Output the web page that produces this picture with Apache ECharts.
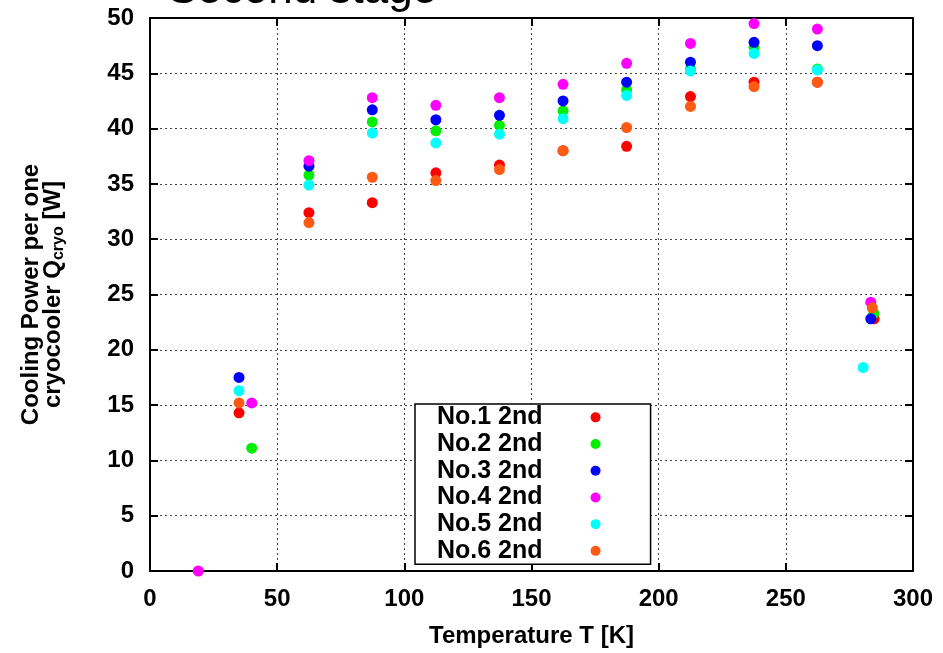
<!DOCTYPE html>
<html>
<head>
<meta charset="utf-8">
<script src="https://cdn.jsdelivr.net/npm/echarts@6/dist/echarts.min.js"></script>
<style>
  html, body { margin: 0; padding: 0; background: #fff; }
  #chart { width: 943px; height: 653px; }
</style>
</head>
<body>
<div id="chart"></div>
<script>
// temperatures [K] and cooling power [W] for each cryocooler (2nd stage)
const tempNo1 = [35.0, 62.5, 87.4, 112.4, 137.4, 162.4, 187.4, 212.5, 237.5, 262.4, 284.7];
const powNo1  = [14.3, 32.4, 33.3, 36.0, 36.7, 38.0, 38.4, 42.9, 44.2, 44.2, 22.8];

const tempNo2 = [40.0, 62.5, 87.4, 112.4, 137.4, 162.4, 187.4, 212.5, 237.5, 262.4, 284.6];
const powNo2  = [11.1, 35.8, 40.6, 39.8, 40.3, 41.6, 43.5, 45.4, 47.4, 45.4, 23.3];

const tempNo3 = [35.0, 62.5, 87.4, 112.4, 137.4, 162.4, 187.4, 212.5, 237.5, 262.4, 283.4];
const powNo3  = [17.5, 36.6, 41.7, 40.8, 41.2, 42.5, 44.2, 46.0, 47.8, 47.5, 22.8];

const tempNo4 = [19.0, 40.0, 62.5, 87.4, 112.4, 137.4, 162.4, 187.4, 212.5, 237.5, 262.4, 283.4];
const powNo4  = [0.0, 15.2, 37.1, 42.8, 42.1, 42.8, 44.0, 45.9, 47.7, 49.5, 49.0, 24.3];

const tempNo5 = [35.0, 62.5, 87.4, 112.4, 137.4, 162.4, 187.4, 212.5, 237.5, 262.4, 280.4];
const powNo5  = [16.3, 34.9, 39.6, 38.7, 39.5, 40.9, 43.0, 45.2, 46.8, 45.3, 18.4];

const tempNo6 = [35.0, 62.5, 87.4, 112.4, 137.4, 162.4, 187.4, 212.5, 237.5, 262.4, 284.0];
const powNo6  = [15.2, 31.5, 35.6, 35.3, 36.3, 38.0, 40.1, 42.0, 43.8, 44.2, 23.8];

const seriesNames = ['No.1 2nd', 'No.2 2nd', 'No.3 2nd', 'No.4 2nd', 'No.5 2nd', 'No.6 2nd'];
const seriesColors = ['#ff0000', '#00ee00', '#0000ff', '#ff00ff', '#00ffff', '#ff5a14'];
const temps = [tempNo1, tempNo2, tempNo3, tempNo4, tempNo5, tempNo6];
const pows = [powNo1, powNo2, powNo3, powNo4, powNo5, powNo6];

const FONT = 'Liberation Sans, Arial, sans-serif';

function pairs(xs, ys) {
  let out = [];
  for (let i = 0; i < xs.length; i++) {
    out.push([xs[i], ys[i]]);
  }
  return out;
}

const gridLine = {
  show: true,
  lineStyle: { color: '#444', width: 1, type: [2, 3] }
};
const frameLine = { show: true, onZero: false, lineStyle: { color: '#000', width: 2 } };
const tickIn = { show: true, inside: true, length: 8, lineStyle: { color: '#000', width: 2 } };

const chart = echarts.init(document.getElementById('chart'), null, { renderer: 'canvas' });

chart.setOption({
  animation: false,
  backgroundColor: '#fff',
  graphic: [{
    // title is cut off by the top edge in the original figure
    type: 'text',
    x: 168,
    y: -9,
    style: {
      text: 'Second stage',
      font: 'normal 44px ' + FONT,
      fill: '#000',
      verticalAlign: 'middle'
    }
  }],
  grid: { left: 150, right: 30, top: 18, bottom: 80, containLabel: false },
  legend: {
    orient: 'vertical',
    left: 415,
    top: 404,
    align: 'right',
    icon: 'circle',
    itemWidth: 96,
    itemHeight: 10,
    itemGap: 0,
    padding: [0, 50, 0, 22],
    borderColor: '#000',
    borderWidth: 1.5,
    backgroundColor: '#fff',
    data: seriesNames,
    textStyle: { fontFamily: FONT, fontWeight: 'bold', fontSize: 25, color: '#000', lineHeight: 26.7 }
  },
  xAxis: [{
    type: 'value',
    min: 0, max: 300, interval: 50,
    name: 'Temperature T [K]',
    nameLocation: 'middle',
    nameGap: 53,
    nameTextStyle: { fontFamily: FONT, fontWeight: 'bold', fontSize: 24, color: '#000' },
    axisLine: frameLine,
    axisTick: tickIn,
    splitLine: gridLine,
    axisLabel: { margin: 16, fontFamily: FONT, fontWeight: 'bold', fontSize: 24, color: '#000' }
  }, {
    type: 'value',
    position: 'top',
    min: 0, max: 300, interval: 50,
    axisLine: frameLine,
    axisTick: tickIn,
    splitLine: { show: false },
    axisLabel: { show: false }
  }],
  yAxis: [{
    type: 'value',
    min: 0, max: 50, interval: 5,
    name: 'Cooling Power per one\ncryocooler Q{sub|cryo} [W]',
    nameLocation: 'middle',
    nameGap: 86,
    nameTextStyle: {
      fontFamily: FONT, fontWeight: 'bold', fontSize: 24, color: '#000', lineHeight: 22,
      rich: {
        sub: { fontFamily: FONT, fontWeight: 'bold', fontSize: 16, color: '#000', padding: [12, 0, 0, 0] }
      }
    },
    axisLine: frameLine,
    axisTick: tickIn,
    splitLine: gridLine,
    axisLabel: { margin: 16, fontFamily: FONT, fontWeight: 'bold', fontSize: 24, color: '#000' }
  }, {
    type: 'value',
    position: 'right',
    min: 0, max: 50, interval: 5,
    axisLine: frameLine,
    axisTick: tickIn,
    splitLine: { show: false },
    axisLabel: { show: false }
  }],
  series: seriesNames.map(function (name, k) {
    return {
      name: name,
      type: 'scatter',
      xAxisIndex: 0,
      yAxisIndex: 0,
      symbol: 'circle',
      symbolSize: 11,
      itemStyle: { color: seriesColors[k], opacity: 1 },
      data: pairs(temps[k], pows[k])
    };
  })
});
</script>
</body>
</html>
